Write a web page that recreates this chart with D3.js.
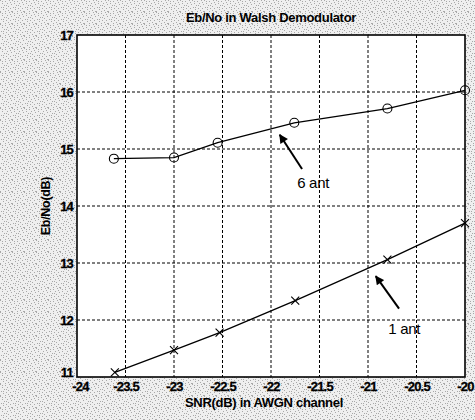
<!DOCTYPE html>
<html>
<head>
<meta charset="utf-8">
<script src="https://cdn.jsdelivr.net/npm/d3@7"></script>
<style>
  html, body { margin: 0; padding: 0; background: #fff; }
  svg { display: block; }
</style>
</head>
<body>
<div id="chart"></div>
<script>
// ---- data ----
const snr = [-23.62, -23.0, -22.55, -21.76, -20.8, -20.0];
const snr1 = [-23.61, -23.0, -22.53, -21.75, -20.8, -20.0];
const ant6 = [14.83, 14.85, 15.11, 15.46, 15.71, 16.03];
const ant1 = [11.08, 11.47, 11.78, 12.34, 13.06, 13.70];
const xTicks = [-24, -23.5, -23, -22.5, -22, -21.5, -21, -20.5, -20];
const yTicks = [11, 12, 13, 14, 15, 16, 17];
const labels = ["6 ant", "1 ant"];
const arrowTips = [[-21.91, 15.25], [-20.92, 12.77]];
const arrowTails = [[-21.68, 14.65], [-20.68, 12.20]];
const labelPos = [[-21.73, 14.32], [-20.79, 11.75]];
const title = "Eb/No in Walsh Demodulator";
const xTitle = "SNR(dB) in AWGN channel";
const yTitle = "Eb/No(dB)";

const W = 475, H = 420;
const m = { left: 77, right: 10, top: 35, bottom: 43 };

const svg = d3.select("#chart").append("svg")
  .attr("width", W).attr("height", H);

// scan-like speckled background
const defs = svg.append("defs");
const pat = defs.append("pattern").attr("id", "speck")
  .attr("width", 12).attr("height", 12).attr("patternUnits", "userSpaceOnUse");
pat.append("rect").attr("width", 12).attr("height", 12).attr("fill", "#efefef");
[[0,0],[5,1],[9,0],[2,3],[7,3],[11,4],[4,5],[1,7],[8,6],[6,8],[10,8],[3,9],
 [0,11],[8,10],[5,11],[11,11],[2,1],[10,2],[6,5],[3,7]].forEach(p =>
  pat.append("rect").attr("x", p[0]).attr("y", p[1]).attr("width", 1).attr("height", 1).attr("fill", "#a8a8a8"));
defs.append("marker").attr("id", "ah")
  .attr("viewBox", "0 0 10 10").attr("refX", 9).attr("refY", 5)
  .attr("markerWidth", 11).attr("markerHeight", 9).attr("markerUnits", "userSpaceOnUse")
  .attr("orient", "auto")
  .append("path").attr("d", "M0,0 L10,5 L0,10 Z").attr("fill", "#000");

svg.append("rect").attr("width", W).attr("height", H).attr("fill", "url(#speck)");

const x = d3.scaleLinear().domain([-24, -20]).range([m.left, W - m.right]);
const y = d3.scaleLinear().domain([11, 17]).range([H - m.bottom, m.top]);

// plot area
svg.append("rect")
  .attr("x", x(-24)).attr("y", y(17))
  .attr("width", x(-20) - x(-24)).attr("height", y(11) - y(17))
  .attr("fill", "#fff");

// grid
const grid = svg.append("g").attr("stroke", "#000").attr("stroke-width", 1)
  .attr("stroke-dasharray", "3,2");
grid.selectAll(".gx").data(xTicks.slice(1, -1)).enter().append("line")
  .attr("x1", d => x(d)).attr("x2", d => x(d))
  .attr("y1", y(17)).attr("y2", y(11));
grid.selectAll(".gy").data(yTicks.slice(1, -1)).enter().append("line")
  .attr("x1", x(-24)).attr("x2", x(-20))
  .attr("y1", d => y(d)).attr("y2", d => y(d));

// axes
const fontFam = "'Liberation Sans', Arial, sans-serif";
const xAxis = svg.append("g").attr("transform", `translate(0,${y(11)})`)
  .call(d3.axisBottom(x).tickValues(xTicks).tickSize(0).tickPadding(5)
    .tickFormat(d => String(d)));
const yAxis = svg.append("g").attr("transform", `translate(${x(-24)},0)`)
  .call(d3.axisLeft(y).tickValues(yTicks).tickSize(0).tickPadding(4)
    .tickFormat(d => String(d)));
[xAxis, yAxis].forEach(a => {
  a.select(".domain").remove();
  a.selectAll("text")
    .style("font-family", fontFam, "important")
    .style("font-weight", "900", "important")
    .style("font-size", "13px", "important")
    .attr("fill", "#000").attr("stroke", "#000").attr("stroke-width", 0.3)
    .attr("letter-spacing", "-0.8px");
});
// lift the bottom y label slightly so it sits above the first x label
yAxis.selectAll(".tick").filter(d => d === 11).select("text").attr("dy", "-0.05em");
xAxis.selectAll(".tick").filter(d => d === -24).select("text").attr("dx", "3px");

// box
svg.append("rect")
  .attr("x", x(-24)).attr("y", y(17))
  .attr("width", x(-20) - x(-24)).attr("height", y(11) - y(17))
  .attr("fill", "none").attr("stroke", "#000").attr("stroke-width", 1.6);

// lines
const line = d3.line().x(d => x(d[0])).y(d => y(d[1]));
const pts6 = snr.map((d, i) => [d, ant6[i]]);
const pts1 = snr1.map((d, i) => [d, ant1[i]]);
svg.append("path").datum(pts6).attr("d", line)
  .attr("fill", "none").attr("stroke", "#000").attr("stroke-width", 1.3);
svg.append("path").datum(pts1).attr("d", line)
  .attr("fill", "none").attr("stroke", "#000").attr("stroke-width", 1.3);

// markers
svg.selectAll(".circ").data(pts6).enter().append("circle")
  .attr("cx", d => x(d[0])).attr("cy", d => y(d[1])).attr("r", 4.5)
  .attr("fill", "none").attr("stroke", "#000").attr("stroke-width", 1.1);
svg.selectAll(".cross").data(pts1).enter().append("path")
  .attr("d", d => {
    const cx = x(d[0]), cy = y(d[1]), s = 4;
    return `M${cx - s},${cy - s}L${cx + s},${cy + s}M${cx - s},${cy + s}L${cx + s},${cy - s}`;
  })
  .attr("stroke", "#000").attr("stroke-width", 1.1);

// annotations
labels.forEach((lab, i) => {
  svg.append("line")
    .attr("x1", x(arrowTails[i][0])).attr("y1", y(arrowTails[i][1]))
    .attr("x2", x(arrowTips[i][0])).attr("y2", y(arrowTips[i][1]))
    .attr("stroke", "#000").attr("stroke-width", 2)
    .attr("marker-end", "url(#ah)");
  svg.append("text")
    .attr("x", x(labelPos[i][0])).attr("y", y(labelPos[i][1]))
    .attr("font-family", fontFam).attr("font-size", 15)
    .attr("letter-spacing", "-0.3px")
    .attr("fill", "#000").text(lab);
});

// titles
svg.append("text").attr("x", 271).attr("y", 22).attr("text-anchor", "middle")
  .attr("font-family", fontFam).attr("font-weight", "bold").attr("font-size", 13)
  .attr("letter-spacing", "-0.3px")
  .text(title);
svg.append("text").attr("x", 264).attr("y", 407).attr("text-anchor", "middle")
  .attr("font-family", fontFam).attr("font-weight", "bold").attr("font-size", 13)
  .attr("letter-spacing", "-0.3px")
  .text(xTitle);
svg.append("text").attr("transform", `translate(50,${y(14)}) rotate(-90)`)
  .attr("text-anchor", "middle")
  .attr("font-family", fontFam).attr("font-weight", "bold").attr("font-size", 12.5)
  .attr("letter-spacing", "-0.3px")
  .text(yTitle);
</script>
</body>
</html>
